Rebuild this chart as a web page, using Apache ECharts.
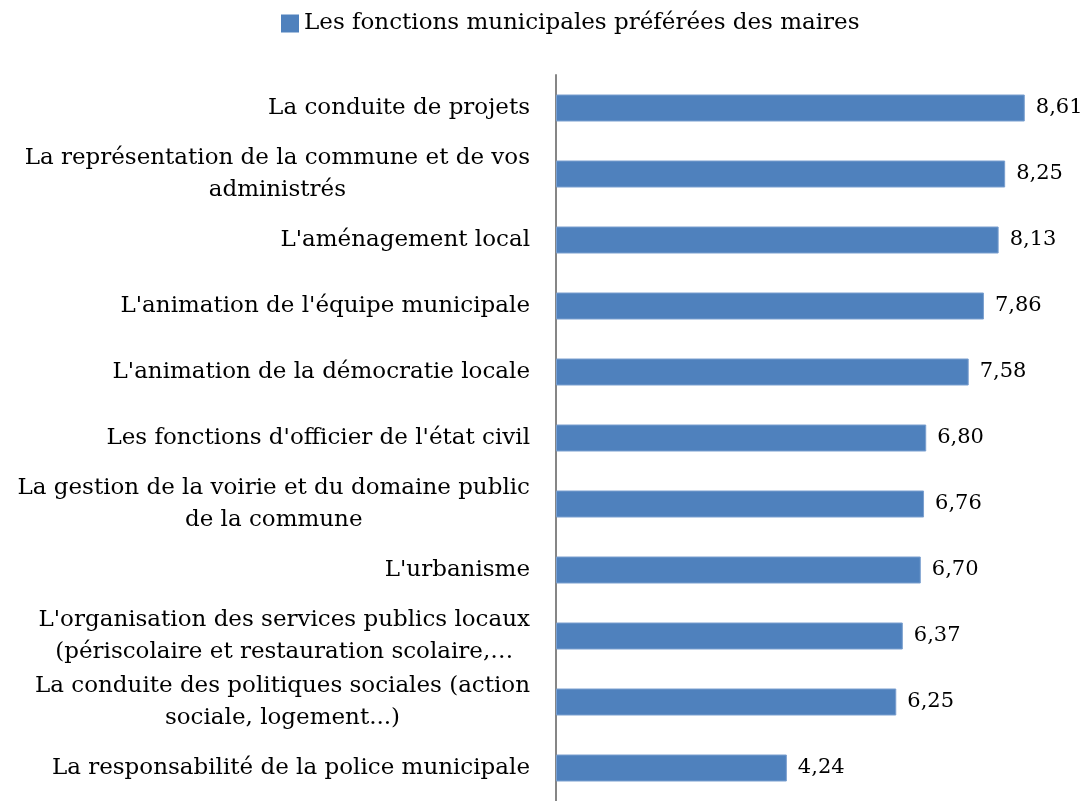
<!DOCTYPE html>
<html>
<head>
<meta charset="utf-8">
<script src="https://cdn.jsdelivr.net/npm/echarts@6/dist/echarts.min.js"></script>
<style>
    html, body { margin: 0; padding: 0; background: #fff; }
    #chart { width: 1089px; height: 801px; }
</style>
</head>
<body>
<div id="chart"></div>
<script>
    // libellés des fonctions (de haut en bas)
    var categories = [
        'La conduite de projets',
        'La représentation de la commune et de vos\nadministrés',
        "L'aménagement local",
        "L'animation de l'équipe municipale",
        "L'animation de la démocratie locale",
        "Les fonctions d'officier de l'état civil",
        'La gestion de la voirie et du domaine public\nde la commune',
        "L'urbanisme",
        "L'organisation des services publics locaux\n(périscolaire et restauration scolaire,…",
        'La conduite des politiques sociales (action\nsociale, logement...)',
        'La responsabilité de la police municipale'
    ]
    var scores = [8.61, 8.25, 8.13, 7.86, 7.58, 6.80, 6.76, 6.70, 6.37, 6.25, 4.24]
    var seriesName = 'Les fonctions municipales préférées des maires'

    var font = 'DejaVu Serif'
    var chart = echarts.init(document.getElementById('chart'))

    chart.setOption({
        animation: false,
        textStyle: { fontFamily: font },
        legend: {
            top: 7,
            left: 276,
            itemWidth: 18,
            itemHeight: 18,
            itemGap: 6,
            icon: 'rect',
            itemStyle: { borderWidth: 0 },
            textStyle: { fontFamily: font, fontSize: 23, color: '#000' },
            data: [seriesName]
        },
        grid: {
            left: 556,
            right: 43,
            top: 75,
            bottom: -5,
            containLabel: false
        },
        xAxis: {
            type: 'value',
            min: 0,
            max: 9,
            show: false
        },
        yAxis: {
            type: 'category',
            inverse: true,
            data: categories,
            axisLine: { show: true, lineStyle: { color: '#868686', width: 2 } },
            axisTick: { show: false },
            axisLabel: {
                margin: 26,
                color: '#000',
                fontFamily: font,
                fontSize: 23,
                lineHeight: 32,
                formatter: function (v) {
                    return v.split('\n').map(function (s) { return '{c|' + s + '}' }).join('\n')
                },
                rich: {
                    c: { align: 'center', fontFamily: font, fontSize: 23, lineHeight: 32, color: '#000' }
                }
            }
        },
        series: [
            {
                name: seriesName,
                type: 'bar',
                data: scores,
                barWidth: 27,
                itemStyle: {
                    color: '#4f81bd',
                    borderColor: '#7a9fcf',
                    borderWidth: 1
                },
                label: {
                    show: true,
                    position: 'right',
                    distance: 11,
                    color: '#000',
                    fontFamily: font,
                    fontSize: 21,
                    formatter: function (p) {
                        return p.value.toFixed(2).replace('.', ',')
                    }
                }
            }
        ]
    })
</script>
</body>
</html>
